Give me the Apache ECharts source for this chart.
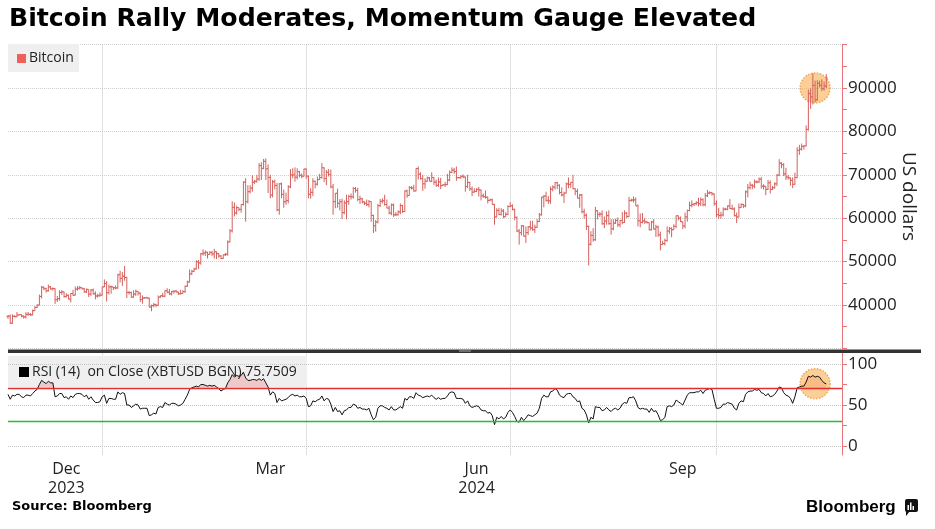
<!DOCTYPE html>
<html><head><meta charset="utf-8">
<script src="https://cdn.jsdelivr.net/npm/echarts@6/dist/echarts.min.js"></script>
<style>html,body{margin:0;padding:0;background:#fff}#c{width:935px;height:529px}</style>
</head><body><div id="c"></div>
<script>
// ---------- DATA (daily XBTUSD bars, 2023-11-20 .. 2024-11-19) ----------
const startDate = '2023-11-20';
const padDays = 7; // empty days to the right of the last bar

const closes = [
 37450,35800,37400,37300,37700,37800,37450,37250,37850,37850,37720,
 38700,39450,39970,41980,44080,43770,43290,44170,43720,43790,41240,41450,42890,43020,41930,42240,41360,42660,42260,43650,43860,43990,43740,43020,43600,42520,43440,42580,42070,42140,42280,
 44170,44960,42850,44180,44160,43970,43930,46970,46110,46630,46340,42890,42850,41800,42510,43150,42740,41260,41620,41660,41580,39510,39850,40080,39930,41820,42120,42030,43300,42950,42580,
 43080,43190,42990,42580,42660,43080,44320,45300,47150,47770,48290,49960,49700,51800,51940,52160,51660,52120,51780,52260,51840,51300,50730,51570,51730,54520,57090,62500,61200,
 62440,62030,63170,68330,63800,66110,66930,68300,68500,69020,72120,71480,73100,71400,69400,65320,68390,67550,61910,67910,65490,63780,64060,67230,69960,69990,69450,70740,69890,69660,71330,
 69700,65500,65960,68500,67840,68900,69360,71620,69140,70590,70060,67200,63820,65740,63430,63810,61280,63510,63840,64990,64930,66840,66410,64300,64480,63760,63420,63110,63840,60640,
 58250,59120,62890,63890,64030,63160,62330,61190,63050,60790,60800,61450,62900,61550,66270,65230,67050,66940,66280,71450,70140,69120,67930,68530,69270,68510,69390,68300,67580,68350,67490,
 67710,67750,68800,70560,71080,70760,69340,69310,69650,69510,67320,68240,66760,66010,66190,66640,66490,65140,64960,64830,64100,64250,63180,60280,61800,60860,61670,60320,60890,62680,
 62850,62030,60200,57060,56660,58230,55850,56700,58000,57750,57340,57900,59230,60790,64870,65100,64110,63980,66680,67150,68190,67580,65930,65370,65780,67900,67800,68260,66780,66190,64620,
 65350,61500,60680,58120,53990,56030,55030,61710,60880,60940,58710,59350,60610,58740,57560,58880,59480,58480,59490,59010,61160,60380,64090,64180,64220,62830,59420,59030,59370,59120,58970,
 57330,59130,57490,57970,56160,53950,54160,54870,57050,57640,57340,58130,60570,60010,59190,58210,60310,61760,62950,63200,63350,63580,63340,64260,63140,65180,65790,65890,65600,63330,
 60840,60630,60750,62090,62060,62820,62220,62130,60580,60270,62450,63190,62850,66080,67050,67610,67380,68380,68360,69000,67370,67360,66650,68160,66640,67010,67930,69900,72720,72340,70220,
 69480,69290,68740,67810,69360,75640,75900,76550,76680,80470,88700,87950,90580,87250,91070,90610,89850,90460,92310
];
const opens = [
 37380,37450,35800,37400,37300,37700,37800,37450,37250,37850,37850,
 37720,38700,39450,39970,41980,44080,43770,43290,44170,43720,43790,41240,41450,42890,43020,41930,42240,41360,42660,42260,43650,43860,43990,43740,43020,43600,42520,43440,42580,42070,42140,
 42280,44170,44960,42850,44180,44160,43970,43930,46970,46110,46630,46340,42890,42850,41800,42510,43150,42740,41260,41620,41660,41580,39510,39850,40080,39930,41820,42120,42030,43300,42950,
 42580,43080,43190,42990,42580,42660,43080,44320,45300,47150,47770,48290,49960,49700,51800,51940,52160,51660,52120,51780,52260,51840,51300,50730,51570,51730,54520,57090,62500,
 61200,62440,62030,63170,68330,63800,66110,66930,68300,68500,69020,72120,71480,73100,71400,69400,65320,68390,67550,61910,67910,65490,63780,64060,67230,69960,69990,69450,70740,69890,69660,
 71330,69700,65500,65960,68500,67840,68900,69360,71620,69140,70590,70060,67200,63820,65740,63430,63810,61280,63510,63840,64990,64930,66840,66410,64300,64480,63760,63420,63110,63840,
 60640,58250,59120,62890,63890,64030,63160,62330,61190,63050,60790,60800,61450,62900,61550,66270,65230,67050,66940,66280,71450,70140,69120,67930,68530,69270,68510,69390,68300,67580,68350,
 67490,67710,67750,68800,70560,71080,70760,69340,69310,69650,69510,67320,68240,66760,66010,66190,66640,66490,65140,64960,64830,64100,64250,63180,60280,61800,60860,61670,60320,60890,
 62680,62850,62030,60200,57060,56660,58230,55850,56700,58000,57750,57340,57900,59230,60790,64870,65100,64110,63980,66680,67150,68190,67580,65930,65370,65780,67900,67800,68260,66780,66190,
 64620,65350,61500,60680,58120,53990,56030,55030,61710,60880,60940,58710,59350,60610,58740,57560,58880,59480,58480,59490,59010,61160,60380,64090,64180,64220,62830,59420,59030,59370,59120,
 58970,57330,59130,57490,57970,56160,53950,54160,54870,57050,57640,57340,58130,60570,60010,59190,58210,60310,61760,62950,63200,63350,63580,63340,64260,63140,65180,65790,65890,65600,
 63330,60840,60630,60750,62090,62060,62820,62220,62130,60580,60270,62450,63190,62850,66080,67050,67610,67380,68380,68360,69000,67370,67360,66650,68160,66640,67010,67930,69900,72720,72340,
 70220,69480,69290,68740,67810,69360,75640,75900,76550,76680,80470,88700,87950,90580,87250,91070,90610,89850,90460
];
const highs = [
 37650,37800,37850,37650,38400,37900,37850,37600,38350,38400,38150,
 38950,39700,40150,42400,44400,44300,44000,44700,44350,44050,43850,42100,43400,43400,43100,42700,42400,42750,43500,44250,44350,44400,44050,43950,43800,43600,43700,43800,43150,42600,42900,
 44200,45900,45500,44700,44500,44200,44500,47200,47900,47600,49000,46500,43250,43100,43400,43550,43200,42900,42200,41850,41900,41700,40100,40500,40300,42200,42200,42800,43400,43850,43700,
 43300,43400,43500,43100,43500,43400,44500,45600,48200,48100,48600,50300,50350,52000,52800,52550,52250,52400,52450,52950,52350,52000,51500,51650,51950,54900,57500,63900,63600,
 62900,62450,63200,68500,69200,67600,67600,69900,68800,70000,72700,72900,73650,73800,72400,70000,68800,68900,68100,68100,68200,66600,65900,67600,71300,71500,71700,71500,70900,70300,71400,
 71500,69800,66900,69200,68700,69600,70200,72700,71700,71100,71300,71200,67900,65800,66800,64400,64500,64100,65400,65400,65700,67200,67200,67000,65200,64700,63900,64300,64200,63900,
 60800,59600,63300,64400,64600,65400,64300,62900,63400,63400,61400,61800,63400,63100,66400,66600,67400,67400,67700,71500,71900,70600,70000,69200,69600,69500,70600,69500,68900,69400,69300,
 67850,68400,70200,71000,71700,71600,71900,69500,69900,70100,69600,70000,68400,67300,66900,66900,67200,66600,65700,66400,65000,64500,64500,63300,62300,62400,62300,62100,61400,63000,
 63700,63200,62200,60400,57500,58400,58400,58100,58200,59400,59400,58500,59800,61200,64900,65300,66100,65100,67300,67600,68300,68400,67800,67100,66100,68200,69400,68300,70000,66900,66800,
 65600,65600,62200,61100,58300,57000,57700,62600,61800,61400,61800,60400,61600,61800,59800,59800,59900,60200,59600,61400,61800,61400,64900,64500,65000,64800,63200,61100,61200,60000,59400,
 59000,59400,59800,58500,58300,56900,54800,55300,58100,58000,57900,58600,60600,60600,60400,59200,61300,62000,63800,64100,63500,63900,64700,64800,64600,65800,66500,66200,66000,65700,
 64100,62400,61500,62500,62400,63000,64400,63100,62500,61300,63400,63400,63300,66400,67900,68400,67900,68900,68700,69400,69500,67800,67400,68800,68700,67400,68300,70200,73600,72900,72700,
 71600,70000,69400,69400,70500,76400,76900,77200,76800,81400,89600,89900,93400,91700,91800,91700,92000,91500,93200
];
const lows = [
 36800,35650,35750,37150,37200,37600,37150,36850,36900,37500,37500,
 37600,38650,39300,39900,41500,43400,42850,43100,43550,43300,40250,40700,41000,42350,41700,41700,41300,40600,42100,42200,43300,43550,43600,42800,42800,41850,42100,42400,41300,41700,41900,
 42200,44150,40800,42400,42600,43450,43600,43700,45200,44400,45600,41600,42400,41700,41750,42100,42200,40700,40300,41450,41500,39450,38550,39500,39500,39800,41650,41800,41800,42700,42300,
 42200,42600,42900,42300,42400,42600,42800,44200,45200,46900,47600,48150,48300,49300,51400,51300,50700,51600,51250,50700,50600,50900,50550,50650,51300,51350,54450,56700,60400,
 60800,61600,61300,62900,59200,63400,65700,66100,67900,68200,68600,68800,71300,68800,65800,64600,64800,66600,61600,60800,64600,62400,63100,63400,66900,69200,68400,68900,69400,69200,69600,
 69100,64600,64500,65100,66900,67500,68800,69100,68300,67600,69600,66900,60800,62300,62400,61800,59800,60900,59700,63100,64300,64500,65900,63900,63300,63400,63000,62800,62500,59200,
 56600,56900,58800,62600,63400,62900,62300,60900,60700,60300,60500,60600,60900,61200,61400,64700,65200,66600,66100,66200,68900,68900,66300,66800,68400,68500,68300,67600,67200,67200,66700,
 67400,67200,67600,68500,70400,70200,68600,69200,69100,69200,66100,66900,66300,65100,65900,66000,65000,64100,64700,64500,63400,63900,63100,58500,60200,60700,60600,60000,60300,60700,
 62600,61800,59500,56800,53900,56000,55800,54300,56100,57200,57100,56600,57800,59100,60600,62500,63800,63300,63300,66200,66600,66700,65500,65000,63500,65700,66900,67000,66700,65300,64600,
 62400,61100,59900,57300,49100,53700,54600,54800,59700,60300,58500,57700,58500,58500,56200,57200,58700,58000,57900,58600,58900,60000,60300,63800,63600,62800,58100,57900,58800,58700,58800,
 57200,57200,57400,55700,55700,52600,53800,53700,54600,56400,55600,57300,57700,59500,59100,57500,57700,59200,61600,62500,62800,63000,62700,62800,62700,62700,64900,65500,65200,62900,
 60200,59900,59900,60400,61800,61800,62100,61900,60400,58900,60200,62400,62300,62500,64800,66600,66700,66900,68000,68100,66800,66600,65300,66500,65700,66500,66800,67400,69700,71500,69700,
 68800,68900,67500,66900,67700,69200,74600,75600,75800,76500,80200,85200,86200,86700,87100,90100,89300,89400,90000
];
// RSI(14) on close
const rsi = [
 63,57,62,61,63,63,60,59,62,62,61,
 64,67,69,75,80,78,76,79,77,77,60,61,64,64,59,60,57,61,59,63,64,64,63,60,62,57,60,56,53,53,54,
 60,62,52,58,58,57,57,66,63,65,64,50,50,47,49,51,50,45,46,46,46,37,38,40,39,47,48,47,53,51,50,
 52,52,51,49,50,52,57,62,69,71,72,73,72,75,75,74,73,74,73,74,72,70,67,69,70,77,81,87,84,
 86,85,86,90,83,80,80,81,81,80,82,80,82,77,72,62,66,64,53,58,55,56,57,59,62,63,61,62,60,60,61,
 58,48,49,55,54,56,57,61,55,58,57,51,42,47,42,43,38,43,44,47,47,51,50,46,47,45,45,44,46,38,
 32,35,46,49,49,47,46,44,48,44,44,46,48,46,58,56,60,60,58,65,62,61,59,60,61,60,62,59,57,59,57,
 58,58,61,65,66,65,58,58,58,57,52,55,49,47,48,49,48,44,43,43,40,41,37,26,35,33,36,33,35,41,
 44,41,36,30,29,35,31,34,38,37,36,38,40,46,58,62,60,60,66,67,70,68,62,60,59,63,64,64,60,58,54,
 55,46,44,38,28,35,33,48,47,47,43,44,47,44,42,45,46,44,46,51,53,52,59,59,60,55,47,45,46,45,45,
 41,46,42,43,38,31,32,35,48,49,48,50,56,54,52,50,56,62,65,65,65,66,66,68,64,68,69,70,69,57,
 46,46,47,51,51,53,52,51,46,44,52,55,54,63,66,67,67,69,68,69,65,64,61,64,60,61,63,67,72,71,65,
 62,61,58,52,60,71,72,73,73,78,85,84,86,84,85,84,80,77,75.7509
];
const tickDates = ['2023-12-16','2024-03-16','2024-06-16','2024-09-16'];
const tickLabels = ['Dec\n2023','Mar','Jun\n2024','Sep'];
const gridDates = ['2024-01-01','2024-04-01','2024-07-01','2024-10-01'];
const rsiLevels = {overbought:70, oversold:30};
const rsiGridValues = [0,50,100];
const rsiTickValues = [0,25,50,75,100];
const rsiLabelValues = [0,50,100];
const highlight = {date:'2024-11-14', price:90000, rsi:76};
const TITLE = 'Bitcoin Rally Moderates, Momentum Gauge Elevated';
const RSI_LEGEND = 'RSI (14)  on Close (XBTUSD BGN) 75.7509';

// ---------- BUILD ----------
const dates = [];
const t0 = Date.parse(startDate + 'T00:00:00Z');
for (let i = 0; i < closes.length + padDays; i++) {
  dates.push(new Date(t0 + i * 86400000).toISOString().slice(0, 10));
}
const ohlc = closes.map((c, i) => [i, opens[i], highs[i], lows[i], c]);
const rsiAbove = rsi.map(v => Math.max(v, rsiLevels.overbought));

const AXIS_RED = '#e8747a';
const BAR = '#d4605c';
const RED = '#e03030';
const GREEN = '#22c030';
const FONT = '"Open Sans", "DejaVu Sans", sans-serif';
const vSplit = {show:true, interval:(i, v) => gridDates.includes(dates[i] || v), lineStyle:{color:'#c4c4c4', type:'dotted', width:1}};
const circleStyle = {color:'rgba(247,170,70,0.7)', borderColor:'#f09a30', borderWidth:1.5, borderType:'dotted'};

// level line: a markLine carried by an otherwise empty line series
const levelLine = (value, color) => ({
  type:'line', xAxisIndex:1, yAxisIndex:1, z:5, data:[], silent:true,
  color:color, lineStyle:{color:color},
  markLine:{silent:true, symbol:'none', label:{show:false}, z:5,
    emphasis:{disabled:true},
    lineStyle:{color:color, type:'solid', width:1.3, opacity:1},
    data:[{yAxis:value}]}
});

const chart = echarts.init(document.getElementById('c'), null, {renderer:'canvas'});
chart.setOption({
  animation:false,
  backgroundColor:'#fff',
  grid:[
    {left:8, right:93, top:44.6, height:303.8},
    {left:8, right:93, top:351.7, height:103.3}
  ],
  xAxis:[
    {type:'category', gridIndex:0, data:dates, boundaryGap:false,
     axisLine:{show:false}, axisTick:{show:false}, axisLabel:{show:false}, splitLine:vSplit},
    {type:'category', gridIndex:1, data:dates, boundaryGap:false,
     axisLine:{show:false}, axisTick:{show:false}, splitLine:vSplit,
     axisLabel:{show:true, interval:(i, v) => tickDates.includes(v),
       formatter:v => tickLabels[tickDates.indexOf(v)] || '',
       color:'#222', fontSize:16, fontFamily:FONT, lineHeight:19, margin:5}}
  ],
  yAxis:[
    {type:'value', gridIndex:0, position:'right', min:30000, max:100000, interval:10000,
     axisLine:{show:true, lineStyle:{color:AXIS_RED, width:1}},
     axisTick:{show:true, length:5, lineStyle:{color:AXIS_RED}},
     minorTick:{show:true, splitNumber:2, length:5, lineStyle:{color:AXIS_RED}},
     axisLabel:{showMinLabel:false, showMaxLabel:false, formatter:v => String(v),
       color:'#222', fontSize:17, fontFamily:FONT, margin:6},
     splitLine:{show:true, lineStyle:{color:'#cfcfcf', type:'dotted'}},
     name:'US dollars', nameLocation:'middle', nameRotate:-90, nameGap:57, nameMoveOverlap:false,
     nameTextStyle:{color:'#222', fontSize:19, fontFamily:FONT}},
    {type:'value', gridIndex:1, position:'right', min:-11, max:115,
     axisLine:{show:true, lineStyle:{color:AXIS_RED, width:1}},
     axisTick:{show:true, length:5, customValues:rsiTickValues, lineStyle:{color:AXIS_RED}},
     axisLabel:{customValues:rsiLabelValues, formatter:v => String(v), color:'#222', fontSize:17, fontFamily:FONT, margin:6},
     splitLine:{show:false}}
  ],
  series:[
    {type:'scatter', xAxisIndex:0, yAxisIndex:0, z:1, silent:true,
     data:[[highlight.date, highlight.price]], symbolSize:30, itemStyle:circleStyle},
    {type:'custom', xAxisIndex:0, yAxisIndex:0, z:2, data:ohlc, encode:{x:0, y:[1,2,3,4]},
     renderItem:(params, api) => {
       const x = api.value(0);
       const o = api.coord([x, api.value(1)]);
       const h = api.coord([x, api.value(2)]);
       const l = api.coord([x, api.value(3)]);
       const c = api.coord([x, api.value(4)]);
       const st = {stroke:BAR, lineWidth:1};
       return {type:'group', children:[
         {type:'line', shape:{x1:h[0], y1:h[1], x2:l[0], y2:l[1]}, style:st},
         {type:'line', shape:{x1:o[0]-1.5, y1:o[1], x2:o[0], y2:o[1]}, style:st},
         {type:'line', shape:{x1:c[0], y1:c[1], x2:c[0]+1.5, y2:c[1]}, style:st}
       ]};
     }},
    // pink fill above the overbought level
    {type:'line', xAxisIndex:1, yAxisIndex:1, z:2, data:rsiAbove, symbol:'none', silent:true,
     lineStyle:{width:0, opacity:0},
     areaStyle:{origin:rsiLevels.overbought, color:'rgba(240,140,140,0.55)'}},
    levelLine(rsiLevels.overbought, RED),
    levelLine(rsiLevels.oversold, GREEN),
    {type:'scatter', xAxisIndex:1, yAxisIndex:1, z:3, silent:true,
     data:[[highlight.date, highlight.rsi]], symbolSize:30, itemStyle:circleStyle},
    // RSI line, plus dotted gridlines
    {type:'line', xAxisIndex:1, yAxisIndex:1, z:4, data:rsi, symbol:'none',
     lineStyle:{color:'#111', width:1},
     markLine:{silent:true, symbol:'none', label:{show:false}, z:1,
       lineStyle:{color:'#c4c4c4', type:'dotted', width:1},
       data:rsiGridValues.map(v => ({yAxis:v}))}}
  ],
  graphic:[
    {type:'text', left:9, top:7, z:100, style:{text:TITLE, font:'bold 25.2px "DejaVu Sans"', fill:'#000'}},
    {type:'rect', z:1, shape:{x:8, y:44, width:71, height:28}, style:{fill:'#efefef'}},
    {type:'rect', z:100, shape:{x:17, y:54, width:9, height:9}, style:{fill:'#f0605a'}},
    {type:'text', z:100, x:29, y:58.5, style:{text:'Bitcoin', font:'14px "Open Sans"', fill:'#222', verticalAlign:'middle'}},
    {type:'rect', z:1, shape:{x:8, y:356, width:299, height:31}, style:{fill:'#efefef'}},
    {type:'rect', z:100, shape:{x:19, y:367, width:10, height:10}, style:{fill:'#000'}},
    {type:'text', z:100, x:32, y:372, style:{text:RSI_LEGEND, font:'14px "Open Sans"', fill:'#222', verticalAlign:'middle'}},
    {type:'rect', z:100, shape:{x:8, y:349.5, width:913, height:3.5}, style:{fill:'#333'}},
    {type:'rect', z:101, shape:{x:459, y:350.5, width:12, height:1}, style:{fill:'#aaa'}},
    {type:'text', z:100, x:12, y:507, style:{text:'Source: Bloomberg', font:'bold 13px "DejaVu Sans"', fill:'#000', verticalAlign:'middle'}},
    {type:'text', z:100, x:806, y:507, style:{text:'Bloomberg', font:'bold 17px "Liberation Sans"', fill:'#000', verticalAlign:'middle'}},
    {type:'rect', z:100, shape:{x:905, y:499, width:13, height:13, r:2}, style:{fill:'#111'}},
    {type:'polygon', z:100, shape:{points:[[906,511],[910,511],[906,516]]}, style:{fill:'#111'}},
    {type:'rect', z:101, shape:{x:907.5, y:505, width:1.5, height:5}, style:{fill:'#fff'}},
    {type:'rect', z:101, shape:{x:910, y:502.5, width:1.5, height:7.5}, style:{fill:'#fff'}},
    {type:'rect', z:101, shape:{x:912.5, y:506, width:1.5, height:4}, style:{fill:'#fff'}}
  ]
});
</script>
</body></html>
